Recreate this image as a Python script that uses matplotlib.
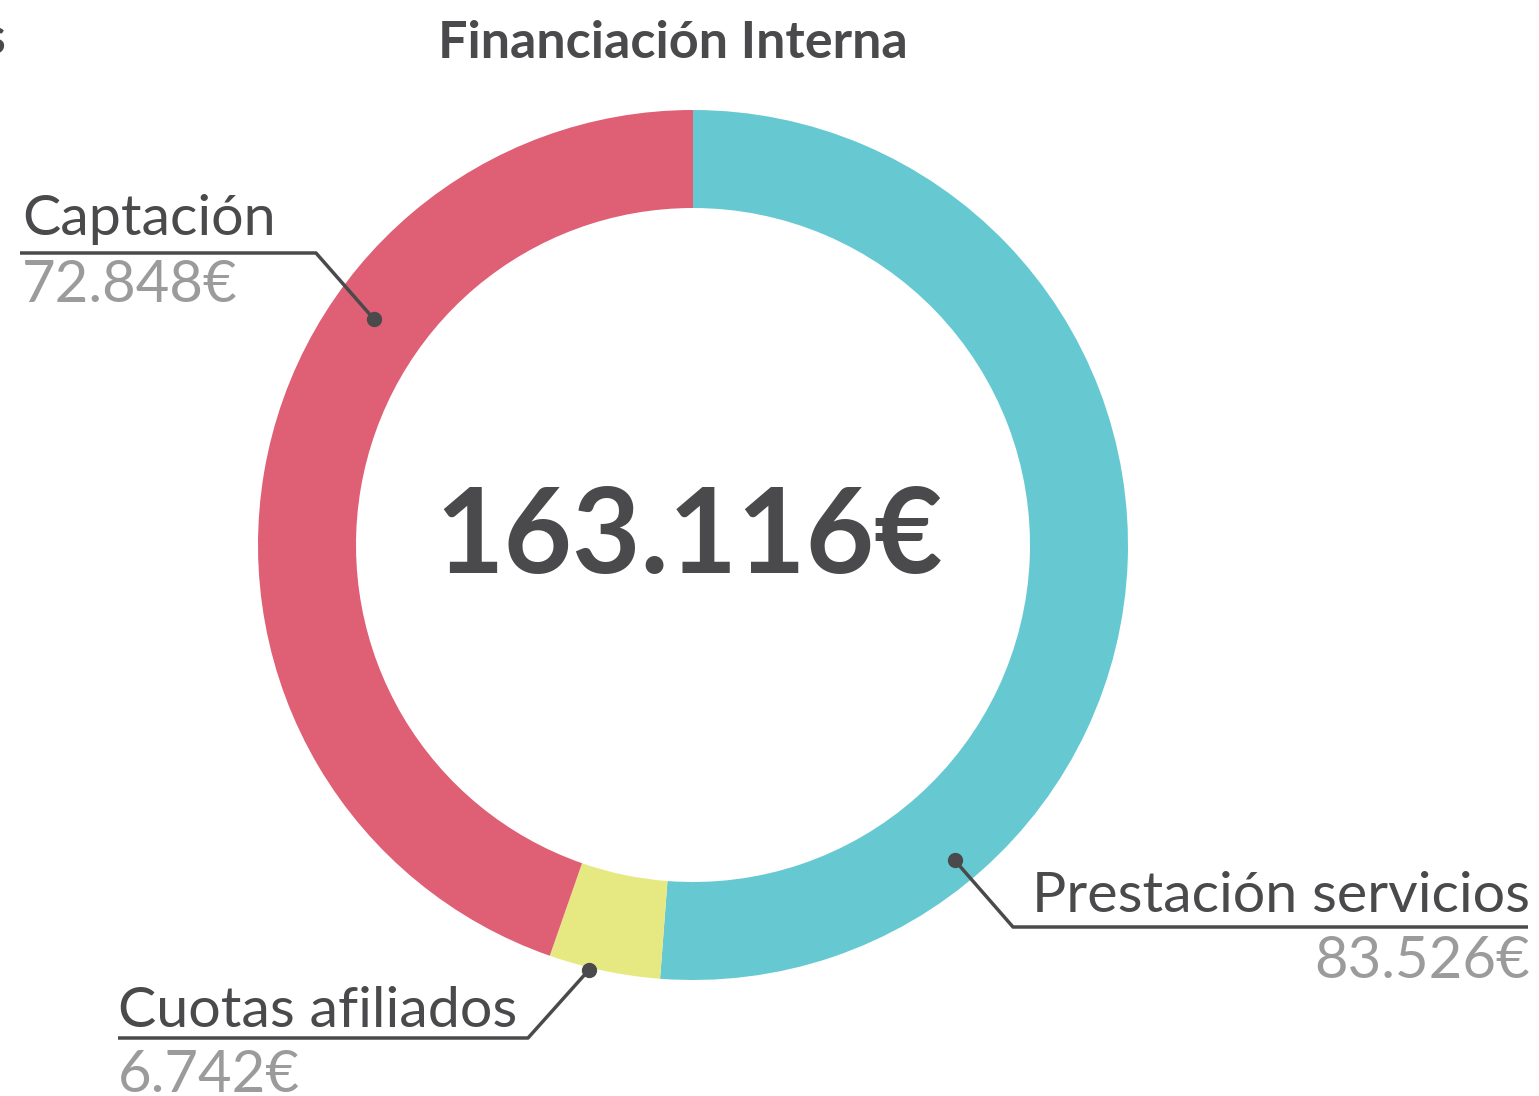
import numpy as np
import matplotlib.pyplot as plt

# data
categories = ["Prestación servicios", "Cuotas afiliados", "Captación"]
values = [83526, 6742, 72848]
value_labels = ["83.526€", "6.742€", "72.848€"]
total_label = "163.116€"
title = "Financiación Interna"
colors = ["#66C9D2", "#E6E982", "#DF5F74"]

DARK = "#4A4A4C"
GREY = "#9B9B9B"
W, H = 1539, 1096

plt.rcParams['font.family'] = ['Lato', 'DejaVu Sans']

fig = plt.figure(figsize=(W / 100, H / 100), dpi=100)
ax = fig.add_axes([0, 0, 1, 1])


def Y(py):
    # pixel row from top -> data y
    return H - py


cx, cy, R = 693, Y(545), 435
ring_w = 98

ax.pie(values, colors=colors, startangle=90, counterclock=False,
       radius=R, center=(cx, cy), frame=True,
       wedgeprops=dict(width=ring_w, linewidth=0))
ax.set_xlim(0, W)
ax.set_ylim(0, H)
ax.set_aspect('equal')
ax.axis('off')

# title and centre total
ax.text(673, Y(58), title, ha='center', va='baseline', fontsize=37.5,
        fontweight='bold', color=DARK)
ax.text(6, Y(54), "s", ha='right', va='baseline', fontsize=37.5,
        fontweight='bold', color=DARK)
ax.text(cx - 4, Y(573), total_label, ha='center', va='baseline', fontsize=85,
        fontweight='bold', color=DARK)

# leader lines: angle on ring, radius of dot, elbow, line end, text anchor
leaders = {
    "Captación": dict(ang=144.7, r=391, elbow=(316, 253), end=20, side='left',
                      base=(22, 235, 302)),
    "Cuotas afiliados": dict(ang=-103.8, r=438, elbow=(528, 1038), end=118,
                             side='left', base=(118, 1027, 1092)),
    "Prestación servicios": dict(ang=-50.3, r=410, elbow=(1013, 927), end=1528,
                                 side='right', base=(1530, 912, 978)),
}

for name, val in zip(categories, value_labels):
    L = leaders[name]
    a = np.deg2rad(L['ang'])
    dx, dy = cx + L['r'] * np.cos(a), cy + L['r'] * np.sin(a)
    ex, ey = L['elbow']
    ax.plot([dx, ex, L['end']], [dy, Y(ey), Y(ey)], color=DARK, lw=2.5,
            solid_capstyle='butt', zorder=3)
    ax.plot(dx, dy, 'o', color=DARK, ms=10, zorder=4)
    tx, b1, b2 = L['base']
    ha = 'left' if L['side'] == 'left' else 'right'
    ax.text(tx, Y(b1), name, ha=ha, va='baseline', fontsize=41.3, color=DARK)
    ax.text(tx, Y(b2), val, ha=ha, va='baseline', fontsize=41.8, color=GREY)

fig.savefig("out.png", dpi=100)
